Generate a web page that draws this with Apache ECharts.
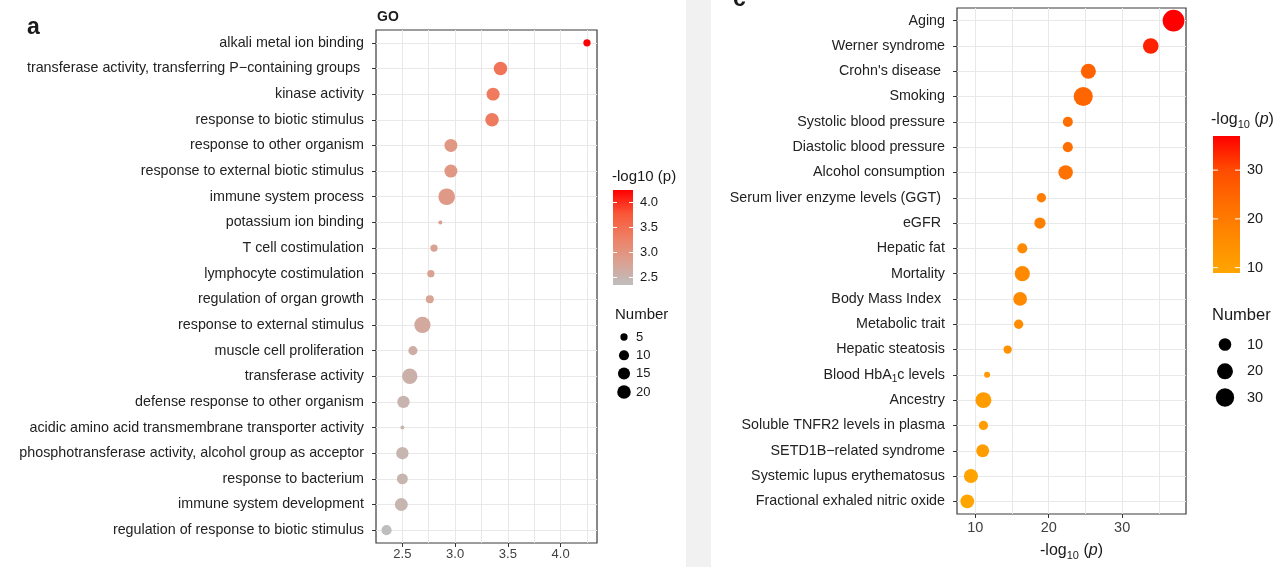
<!DOCTYPE html>
<html><head><meta charset="utf-8">
<script src="https://cdn.jsdelivr.net/npm/echarts@6/dist/echarts.min.js"></script>
<style>html,body{margin:0;padding:0;background:#fff}#c{width:1284px;height:567px}</style>
</head><body><div id="c"></div>
<script>
// ---------- data: panel a (GO) ----------
const goTerms = [
  'alkali metal ion binding',
  'transferase activity, transferring P\u2212containing groups ',
  'kinase activity',
  'response to biotic stimulus',
  'response to other organism',
  'response to external biotic stimulus',
  'immune system process',
  'potassium ion binding',
  'T cell costimulation',
  'lymphocyte costimulation',
  'regulation of organ growth',
  'response to external stimulus',
  'muscle cell proliferation',
  'transferase activity',
  'defense response to other organism',
  'acidic amino acid transmembrane transporter activity',
  'phosphotransferase activity, alcohol group as acceptor',
  'response to bacterium',
  'immune system development',
  'regulation of response to biotic stimulus'
];
const goLogP  = [4.25, 3.43, 3.36, 3.35, 2.96, 2.96, 2.92, 2.86, 2.80, 2.77, 2.76, 2.69, 2.60, 2.57, 2.51, 2.50, 2.50, 2.50, 2.49, 2.35];
const goCount = [5, 20, 18, 20, 18, 18, 33, 3, 5, 5, 6, 31, 8, 27, 16, 3, 16, 12, 18, 10];
const goXTicks = [2.5, 3.0, 3.5, 4.0];
const goColorTicks = [2.5, 3.0, 3.5, 4.0];
const goSizeBreaks = [5, 10, 15, 20];

// ---------- data: panel c (GWAS traits) ----------
const gwasTraits = [
  'Aging',
  'Werner syndrome',
  "Crohn's disease ",
  'Smoking',
  'Systolic blood pressure',
  'Diastolic blood pressure',
  'Alcohol consumption',
  'Serum liver enzyme levels (GGT) ',
  'eGFR ',
  'Hepatic fat',
  'Mortality',
  'Body Mass Index ',
  'Metabolic trait',
  'Hepatic steatosis',
  'Blood HbA1c levels',
  'Ancestry',
  'Soluble TNFR2 levels in plasma',
  'SETD1B\u2212related syndrome',
  'Systemic lupus erythematosus',
  'Fractional exhaled nitric oxide'
];
const gwasLogP  = [37.0, 33.9, 25.4, 24.7, 22.6, 22.6, 22.3, 19.0, 18.8, 16.4, 16.4, 16.1, 15.9, 14.4, 11.6, 11.1, 11.1, 11.0, 9.4, 8.9];
const gwasCount = [47, 19, 17, 33, 5, 5, 15, 4, 7, 5, 17, 13, 4, 3, 2, 20, 4, 11, 14, 13];
const gwasXTicks = [10, 20, 30];
const gwasColorTicks = [10, 20, 30];
const gwasSizeBreaks = [10, 20, 30];

// ---------- styling / layout ----------
const FONT = '"Liberation Sans", Arial, Helvetica, sans-serif';
const GRID_LINE = '#e8e8e8';
const LABEL = '#222';
const L = {left: 376, top: 30, width: 221, height: 513};
const R = {left: 957, top: 8, width: 229, height: 506};
const goXRange = [2.25, 4.345];
const gwasXRange = [7.5, 38.7];
const goColors = ['#BEBEBE', '#DBA090', '#EE7F64', '#F95738', '#FF0000'];
const gwasColors = ['#FFA500', '#FF8B00', '#FF6E00', '#FF4C00', '#FF0000'];
const goSize = n => 4 + 12.7 * Math.sqrt(Math.max(n - 3, 0) / 30);
const gwasSize = n => 6 + 15.7 * Math.sqrt(Math.max(n - 2, 0) / 45);
const goCRange = [Math.min(...goLogP), Math.max(...goLogP)];
const gwasCRange = [Math.min(...gwasLogP), Math.max(...gwasLogP)];

function innerGrid(g, n) {
  const band = g.height / n;
  return {left: g.left, top: g.top + band / 2, width: g.width, height: g.height - band, show: false, containLabel: false, outerBoundsMode: 'none'};
}
function boxGrid(g) {
  return {left: g.left, top: g.top, width: g.width, height: g.height, show: true,
    borderColor: '#3a3a3a', borderWidth: 1.2, backgroundColor: 'transparent', containLabel: false, outerBoundsMode: 'none'};
}
function gridLinesX(gi, range, extra) {
  return Object.assign({gridIndex: gi, type: 'value', position: 'bottom', min: range[0], max: range[1],
    axisLine: {show: false}, axisTick: {show: false}, axisLabel: {show: false},
    splitLine: {show: true, showMinLine: false, showMaxLine: false, lineStyle: {color: GRID_LINE, width: 1}}}, extra);
}
function tickX(gi, range, ticks, fmt, fs, margin, extra) {
  return Object.assign({gridIndex: gi, type: 'value', position: 'bottom', min: range[0], max: range[1],
    axisLine: {show: false}, splitLine: {show: false},
    axisTick: {show: true, length: 4, customValues: ticks, lineStyle: {color: '#333', width: 1}},
    axisLabel: {show: true, customValues: ticks, formatter: fmt, margin: margin, fontSize: fs, color: '#404040', fontFamily: FONT}}, extra);
}
function hiddenX(gi, range) {
  return {gridIndex: gi, type: 'value', position: 'bottom', min: range[0], max: range[1], show: false};
}
function catY(gi, cats, fs, extra) {
  return Object.assign({gridIndex: gi, type: 'category', position: 'left', inverse: true, data: cats,
    axisLine: {show: false}, splitLine: {show: false},
    axisTick: {show: true, length: 4, alignWithLabel: true, lineStyle: {color: '#333', width: 1}},
    axisLabel: {show: true, interval: 0, margin: 12, fontSize: fs, color: LABEL, fontFamily: FONT}}, extra);
}
function rowLinesY(gi, n) {
  return {gridIndex: gi, type: 'value', position: 'left', min: 0, max: n - 1, interval: 1,
    axisLine: {show: false}, axisTick: {show: false}, axisLabel: {show: false},
    splitLine: {show: true, lineStyle: {color: GRID_LINE, width: 1}}};
}

// ---------- legends (graphic) ----------
const graphics = [];
graphics.push({type: 'rect', shape: {x: 686, y: 0, width: 25, height: 567}, style: {fill: '#f1f1f1'}, z: -10});
function txt(x, y, text, font, extra) {
  return {type: 'text', x: x, y: y, z: 50,
    style: Object.assign({text: text, font: font, fill: '#1a1a1a', align: 'left', verticalAlign: 'middle', textAlign: 'left', textVerticalAlign: 'middle'}, extra || {})};
}
function colorbar(bar, crange, colors, ticks, fmt, labelX, fs) {
  const stops = colors.map((c, i) => ({offset: 1 - i / (colors.length - 1), color: c})).reverse();
  graphics.push({type: 'rect', z: 40, shape: {x: bar.x, y: bar.y, width: bar.w, height: bar.h},
    style: {fill: new echarts.graphic.LinearGradient(0, 0, 0, 1, stops)}});
  const tl = Math.round(bar.w * 0.2);
  ticks.forEach(v => {
    const y = bar.y + (crange[1] - v) / (crange[1] - crange[0]) * bar.h;
    graphics.push({type: 'line', z: 45, shape: {x1: bar.x, y1: y, x2: bar.x + tl, y2: y}, style: {stroke: '#fff', lineWidth: 1}});
    graphics.push({type: 'line', z: 45, shape: {x1: bar.x + bar.w - tl, y1: y, x2: bar.x + bar.w, y2: y}, style: {stroke: '#fff', lineWidth: 1}});
    graphics.push(txt(labelX, y, fmt(v), fs + 'px ' + FONT));
  });
}
function sizeLegend(cx, ys, breaks, sizeFn, labelX, fs) {
  breaks.forEach((b, i) => {
    graphics.push({type: 'circle', z: 40, shape: {cx: cx, cy: ys[i], r: sizeFn(b) / 2}, style: {fill: '#000'}});
    graphics.push(txt(labelX, ys[i], String(b), fs + 'px ' + FONT));
  });
}
// panel a legends
graphics.push(txt(612, 177, '-log10 (p)', '15px ' + FONT));
colorbar({x: 613, y: 190, w: 20, h: 95}, goCRange, goColors, goColorTicks, v => v.toFixed(1), 640, 13);
graphics.push(txt(615, 315, 'Number', '15px ' + FONT));
sizeLegend(624, [337, 355.3, 373.6, 392], goSizeBreaks, goSize, 636, 13);
// panel c legends
graphics.push({type: 'text', x: 1211, y: 120, z: 50, style: {
  text: '{a|-log}{s|10}{a| (}{i|p}{a|)}', fill: '#1a1a1a', align: 'left', verticalAlign: 'middle', textAlign: 'left', textVerticalAlign: 'middle',
  rich: {a: {font: '16px ' + FONT, lineHeight: 20, verticalAlign: 'middle'},
         s: {font: '11px ' + FONT, lineHeight: 20, verticalAlign: 'bottom'},
         i: {font: 'italic 16px ' + FONT, lineHeight: 20, verticalAlign: 'middle'}}}});
colorbar({x: 1213, y: 136, w: 27, h: 137}, gwasCRange, gwasColors, gwasColorTicks, v => String(v), 1247, 14.5);
graphics.push(txt(1212, 315, 'Number', '16.5px ' + FONT));
sizeLegend(1225, [344.5, 371.3, 397.5], gwasSizeBreaks, gwasSize, 1247, 14.5);
// titles / panel letters
graphics.push(txt(27, 28, 'a', 'bold 23px ' + FONT));
graphics.push(txt(377, 17, 'GO', 'bold 14px ' + FONT));
graphics.push(txt(733, 11, 'c', 'bold 23px ' + FONT, {verticalAlign: 'bottom', textVerticalAlign: 'bottom'}));

const option = {
  backgroundColor: '#fff',
  animation: false,
  textStyle: {fontFamily: FONT},
  grid: [boxGrid(L), innerGrid(L, goTerms.length), boxGrid(R), innerGrid(R, gwasTraits.length)],
  xAxis: [
    gridLinesX(0, goXRange, {interval: 0.25}),
    tickX(0, goXRange, goXTicks, v => Number(v).toFixed(1), 13, 5),
    hiddenX(1, goXRange),
    gridLinesX(2, gwasXRange, {splitNumber: 6}),
    tickX(2, gwasXRange, gwasXTicks, v => String(Math.round(v)), 14.5, 6, {
      name: '{a|-log}{s|10}{a| (}{i|p}{a|)}', nameLocation: 'middle', nameGap: 27,
      nameTextStyle: {color: '#1a1a1a', rich: {
        a: {fontSize: 16, fontFamily: FONT, lineHeight: 20, verticalAlign: 'middle', color: '#1a1a1a'},
        s: {fontSize: 11, fontFamily: FONT, lineHeight: 20, verticalAlign: 'bottom', color: '#1a1a1a'},
        i: {fontSize: 16, fontFamily: FONT, fontStyle: 'italic', lineHeight: 20, verticalAlign: 'middle', color: '#1a1a1a'}}}
    }),
    hiddenX(3, gwasXRange)
  ],
  yAxis: [
    catY(0, goTerms, 14.3),
    rowLinesY(1, goTerms.length),
    catY(2, gwasTraits, 14.3, {axisLabel: {show: true, interval: 0, margin: 12, fontSize: 14.3, color: LABEL, fontFamily: FONT,
      formatter: v => v === 'Blood HbA1c levels' ? '{n|Blood HbA}{s|1}{n|c levels}' : '{n|' + v + '}',
      rich: {n: {fontSize: 14.3, fontFamily: FONT, color: LABEL, lineHeight: 18, verticalAlign: 'middle'},
             s: {fontSize: 10, fontFamily: FONT, color: LABEL, lineHeight: 18, verticalAlign: 'bottom'}}}}),
    rowLinesY(3, gwasTraits.length)
  ],
  visualMap: [
    {type: 'continuous', show: false, seriesIndex: 0, dimension: 0, min: goCRange[0], max: goCRange[1], inRange: {color: goColors}},
    {type: 'continuous', show: false, seriesIndex: 1, dimension: 0, min: gwasCRange[0], max: gwasCRange[1], inRange: {color: gwasColors}}
  ],
  series: [
    {type: 'scatter', xAxisIndex: 0, yAxisIndex: 0, z: 5, silent: true,
     data: goTerms.map((t, i) => [goLogP[i], i, goCount[i]]),
     symbolSize: v => goSize(v[2]), itemStyle: {opacity: 1}},
    {type: 'scatter', xAxisIndex: 3, yAxisIndex: 2, z: 5, silent: true,
     data: gwasTraits.map((t, i) => [gwasLogP[i], i, gwasCount[i]]),
     symbolSize: v => gwasSize(v[2]), itemStyle: {opacity: 1}}
  ],
  graphic: graphics
};
const chart = echarts.init(document.getElementById('c'));
chart.setOption(option);
</script>
</body></html>
